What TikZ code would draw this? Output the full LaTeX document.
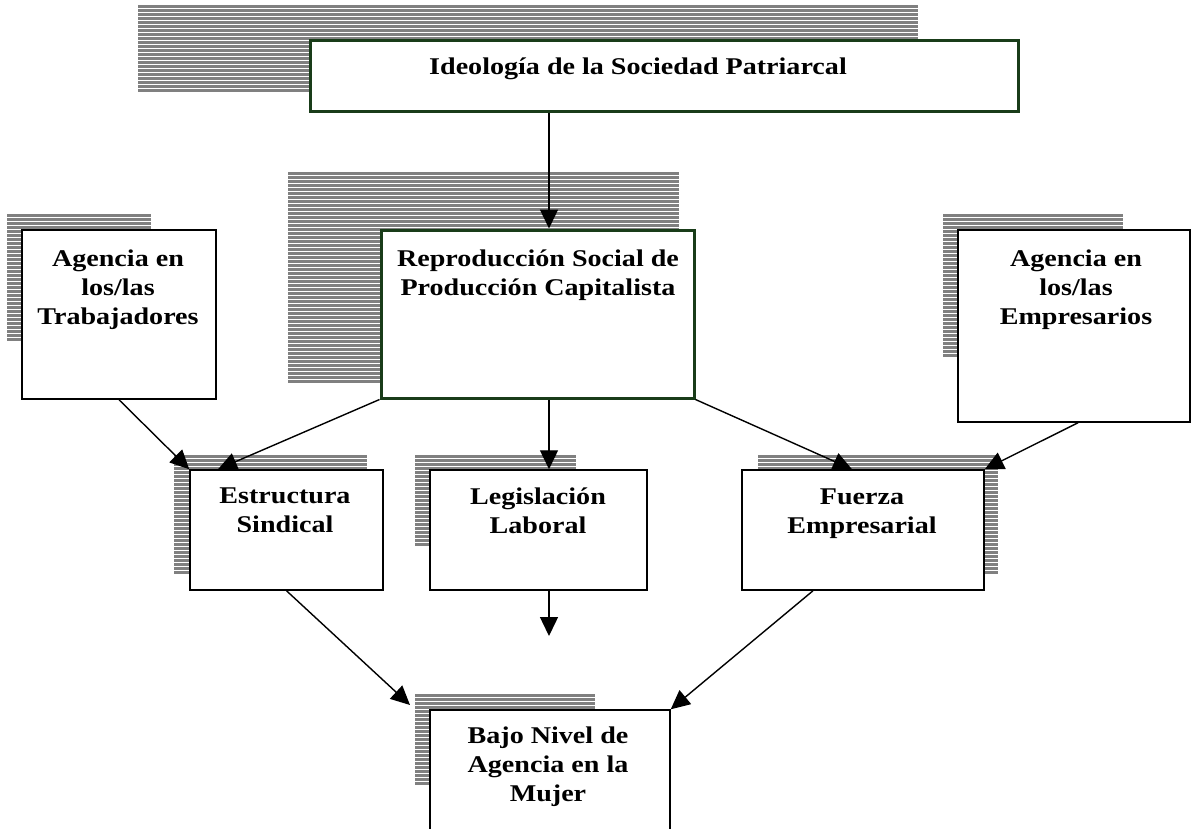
\documentclass[tikz,border=0pt]{standalone}
\usepackage{fontspec}
\setmainfont{Liberation Serif}[FakeStretch=1.17]
\usetikzlibrary{arrows.meta}
\definecolor{boxgreen}{RGB}{25,60,25}
\definecolor{stripegray}{RGB}{128,128,128}
\tikzset{
  box/.style={draw=black, line width=1.5pt, fill=white, inner sep=0pt},
  gbox/.style={box, draw=boxgreen, line width=3pt},
  lbl/.style={font=\bfseries\fontsize{24}{29}\selectfont, align=center, inner sep=0pt, anchor=base},
  conn/.style={line width=1.4pt, -{Triangle[length=19pt,width=18pt]}},
  stripe/.style={stripegray, line width=2.8pt},
}
\newcommand\stripebox[4]{%
  \pgfmathtruncatemacro\nst{(#4-#2)/4}%
  \foreach \i in {0,...,\nst}{\draw[stripe] (#1,#2+1.4+4*\i) -- (#3,#2+1.4+4*\i);}}
\begin{document}
\begin{tikzpicture}[x=1pt,y=-1pt]
\clip (0,0) rectangle (1191,828);
\fill[white] (0,0) rectangle (1191,828);
% striped shadows
\stripebox{138}{5}{918}{92}
\stripebox{288}{172}{679}{380}
\stripebox{7}{214}{151}{338}
\stripebox{943}{214}{1123}{356}
\stripebox{174}{455}{367}{572}
\stripebox{415}{455}{576}{543}
\stripebox{758}{455}{998}{572}
\stripebox{415}{694}{595}{782}
% boxes
\node[gbox, minimum width=708pt, minimum height=71pt] (ideo) at (664,75.5) {};
\node[gbox, minimum width=313pt, minimum height=168pt] (repro) at (537.5,314) {};
\node[box, minimum width=194pt, minimum height=169pt] (trab) at (119,314.5) {};
\node[box, minimum width=232pt, minimum height=192pt] (emp) at (1074,326) {};
\node[box, minimum width=193pt, minimum height=120pt] (estr) at (286.5,530) {};
\node[box, minimum width=217pt, minimum height=120pt] (legis) at (538.5,530) {};
\node[box, minimum width=242pt, minimum height=120pt] (fuerza) at (863,530) {};
\node[box, minimum width=240pt, minimum height=190pt] (bajo) at (550,805) {};
% labels (anchor = baseline of last line)
\node[lbl] (ideo-t) at (638,74) {Ideología de la Sociedad Patriarcal};
\node[lbl] (repro-t) at (538,295) {Reproducción Social de\\Producción Capitalista};
\node[lbl] (trab-t) at (118,324) {Agencia en\\los/las\\Trabajadores};
\node[lbl] (emp-t) at (1076,324) {Agencia en\\los/las\\Empresarios};
\node[lbl] (estr-t) at (285,532) {Estructura\\Sindical};
\node[lbl] (legis-t) at (538,533) {Legislación\\Laboral};
\node[lbl] (fuerza-t) at (862,533) {Fuerza\\Empresarial};
\node[lbl] (bajo-t) at (548,801) {Bajo Nivel de\\Agencia en la\\Mujer};
% connector helpers
\coordinate (cx) at (549,0);
\coordinate (e1) at (218,0);
\coordinate (f1) at (852,0);
\coordinate (g1) at (1078,0);
\coordinate (h1) at (813,0);
\coordinate (legend) at (549,636);
\coordinate (bajoin) at (410,705);
% connectors
\draw[conn] (ideo.south -| cx) -- (repro.north -| cx);
\draw[conn] (trab.south) -- (estr.north west);
\draw[conn] (repro.south west) -- (estr.north -| e1);
\draw[conn] (repro.south -| cx) -- (legis.north -| cx);
\draw[conn] (repro.south east) -- (fuerza.north -| f1);
\draw[conn] (emp.south -| g1) -- (fuerza.north east);
\draw[conn] (legis.south -| cx) -- (legend);
\draw[conn] (estr.south) -- (bajoin);
\draw[conn] (fuerza.south -| h1) -- (bajo.north east);
\end{tikzpicture}
\end{document}
